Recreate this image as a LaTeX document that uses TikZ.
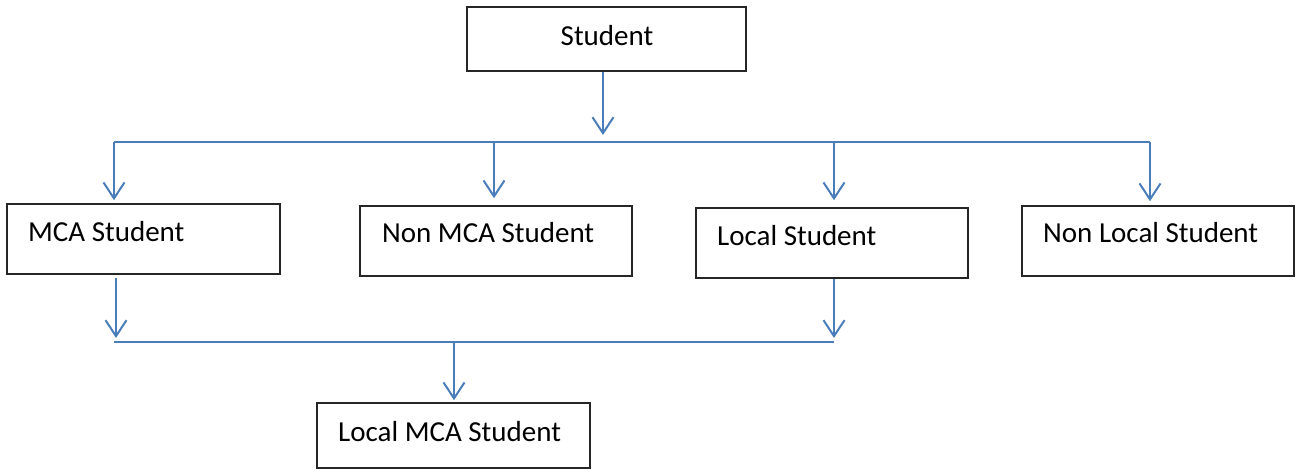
\documentclass[tikz,border=0pt]{standalone}
\usepackage{fontspec}
\setmainfont{Carlito}
\usetikzlibrary{arrows.meta}
\definecolor{lineblue}{HTML}{4A7EBB}
\tikzset{
  box/.style={draw=black!85, line width=1.5pt, inner sep=0pt, minimum width=#1, rectangle},
  lbl/.style={inner sep=0pt, anchor=base west, font=\fontsize{29}{34}\selectfont},
  conn/.style={draw=lineblue, line width=2pt},
  arr/.style={conn, -{Straight Barb[length=16pt,width=21pt,line width=2pt]}}
}
\begin{document}
\begin{tikzpicture}[x=1pt,y=-1pt]
\useasboundingbox (0,0) rectangle (1302,470);
% boxes
\node[box=279pt, minimum height=64pt] (st) at (606.5,39) {};
\node[box=273pt, minimum height=70pt] (mca) at (143.5,239) {};
\node[box=272pt, minimum height=70pt] (nmca) at (496,241) {};
\node[box=272pt, minimum height=70pt] (loc) at (832,243) {};
\node[box=272pt, minimum height=70pt] (nloc) at (1158,241) {};
\node[box=273pt, minimum height=65pt] (lmca) at (453.5,435.5) {};
% labels
\node[lbl, anchor=base] (tst) at (607,46) {Student};
\node[lbl] (tmca) at (28,242) {MCA Student};
\node[lbl] (tnmca) at (382,243) {Non MCA Student};
\node[lbl] (tloc) at (717,246) {Local Student};
\node[lbl] (tnloc) at (1043,243) {Non Local Student};
\node[lbl] (tlmca) at (338,441) {Local MCA Student};
% upper bus
\coordinate (b1) at (114,142);
\coordinate (b2) at (494,142);
\coordinate (b3) at (834,142);
\coordinate (b4) at (1150,142);
\coordinate (stin) at (603,135);
\draw[arr] (st.south -| stin) -- (stin);
\draw[conn] (b1) -- (b4);
\draw[arr] (b1) -- ([yshift=3pt]b1 |- mca.north);
\draw[arr] (b2) -- ([yshift=7pt]b2 |- nmca.north);
\draw[arr] (b3) -- ([yshift=7pt]b3 |- loc.north);
\draw[arr] (b4) -- ([yshift=4pt]b4 |- nloc.north);
% lower bus
\coordinate (c1) at (114,342);
\coordinate (c2) at (834,342);
\coordinate (c3) at (454,342);
\coordinate (m1) at (116,338);
\coordinate (m2) at (834,338);
\draw[arr] ([yshift=-3pt]mca.south -| m1) -- (m1);
\draw[arr] (loc.south -| m2) -- (m2);
\draw[conn] (c1) -- (c2);
\draw[arr] (c3) -- ([yshift=2pt]c3 |- lmca.north);
\end{tikzpicture}
\end{document}
